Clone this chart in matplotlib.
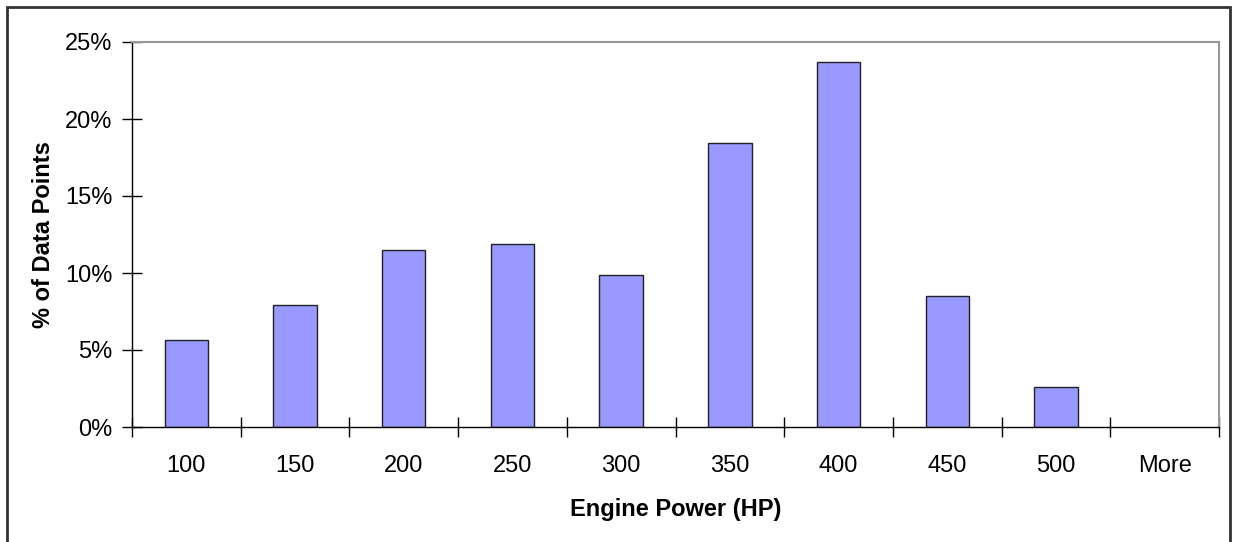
import numpy as np
import matplotlib
matplotlib.use("Agg")
import matplotlib.pyplot as plt
from matplotlib.ticker import FuncFormatter, FixedLocator

plt.rcParams['font.family'] = ['Liberation Sans', 'DejaVu Sans']

# histogram bins (upper edge) and share of data points in each, %
bins = ["100", "150", "200", "250", "300", "350", "400", "450", "500", "More"]
share = [5.65, 7.9, 11.5, 11.9, 9.85, 18.45, 23.7, 8.5, 2.6, 0.0]

fig = plt.figure(figsize=(12.36, 5.42), dpi=100)
fig.patch.set_facecolor("white")
# outer chart border (bottom edge falls outside the picture)
fig.add_artist(plt.Rectangle((7 / 1236, -10 / 542), 1 - 13 / 1236, 1 + 3 / 542,
                             transform=fig.transFigure, fill=False,
                             edgecolor="#333333", linewidth=2))

ax = fig.add_axes([132 / 1236, 1 - 427 / 542, (1219 - 132) / 1236, (427 - 42) / 542])

x = np.arange(len(bins))
bars = ax.bar(x, share, width=0.4, color="#9999ff", edgecolor="#222222", linewidth=1)
for b, v in zip(bars, share):
    if v == 0:
        b.set_linewidth(0)

ax.set_xlim(-0.5, len(bins) - 0.5)
ax.set_ylim(0, 25)
ax.set_yticks(np.arange(0, 26, 5))
ax.yaxis.set_major_formatter(FuncFormatter(lambda v, p: f"{v:.0f}%"))
ax.set_xticks(x)
ax.set_xticklabels(bins)
ax.xaxis.set_minor_locator(FixedLocator(np.arange(-0.5, len(bins), 1)))

ax.tick_params(axis="x", which="major", length=0, pad=20, labelsize=17)
ax.tick_params(axis="x", which="minor", direction="inout", length=14, width=1)
ax.tick_params(axis="y", direction="inout", length=14, width=1, pad=7, labelsize=17)

for side in ["top", "right"]:
    ax.spines[side].set_color("#999999")
    ax.spines[side].set_linewidth(1.5)
for side in ["left", "bottom"]:
    ax.spines[side].set_color("black")
    ax.spines[side].set_linewidth(1)

ax.set_xlabel("Engine Power (HP)", fontsize=17, fontweight="bold", labelpad=15)
ax.set_ylabel("% of Data Points", fontsize=17, fontweight="bold", labelpad=7)

fig.savefig("out.png", dpi=100)
